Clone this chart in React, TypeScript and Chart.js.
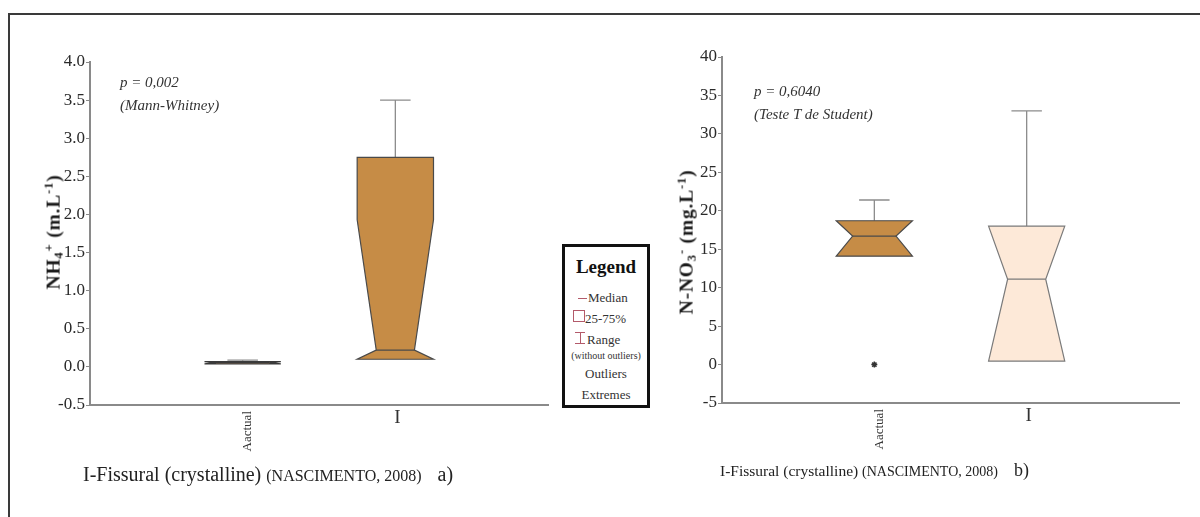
import React, { useEffect, useRef } from 'react';
import { Chart, registerables } from 'chart.js';

Chart.register(...registerables);

// ---------- data ----------
const categories = ['Aactual', 'I'];
const categoryRotated = [true, false];

// Panel a) NH4+
const nh4Min = [0.04, 0.1];
const nh4Q1 = [0.04, 0.1];
const nh4NotchLow = [0.04, 0.1];
const nh4Median = [0.055, 0.22];
const nh4NotchHigh = [0.07, 1.93];
const nh4Q3 = [0.07, 2.75];
const nh4Max = [0.09, 3.5];
const nh4Outliers: { cat: number; value: number }[] = [];
const nh4YTicks = [-0.5, 4.0, 0.5];

// Panel b) N-NO3-
const no3Min = [14.1, 0.45];
const no3Q1 = [14.1, 0.45];
const no3NotchLow = [14.1, 0.45];
const no3Median = [16.7, 11.1];
const no3NotchHigh = [18.7, 18.0];
const no3Q3 = [18.7, 18.0];
const no3Max = [21.4, 33.0];
const no3Outliers = [{ cat: 0, value: 0 }];
const no3YTicks = [-5, 40, 5];

const BROWN = '#C68C46';
const PEACH = '#FDE9D8';
const nh4Fill = [BROWN, BROWN];
const no3Fill = [BROWN, PEACH];
const nh4Stroke = ['#3a3a3a', '#4a4a4a'];
const no3Stroke = ['#4a4a4a', '#7a7a7a'];

const SERIF = '"Liberation Serif", "Times New Roman", serif';

type BoxSet = {
  min: number[]; q1: number[]; nlo: number[]; med: number[]; nhi: number[]; q3: number[]; max: number[];
  fill: string[]; stroke: string[]; notch: number[];
};

function makeBoxPlugin(b: BoxSet) {
  return {
    id: 'boxplots',
    beforeDatasetsDraw(chart: any) {
      const { ctx } = chart;
      const xs = chart.scales.x;
      const ys = chart.scales.y;
      const Y = (v: number) => ys.getPixelForValue(v);
      categories.forEach((_, i) => {
        const xc = xs.getPixelForValue(i);
        const hw = xs.getPixelForValue(i + 0.25) - xc;
        const nd = hw * b.notch[i];
        const L = xc - hw;
        const R = xc + hw;
        const cap = hw * 0.4;
        ctx.save();
        ctx.strokeStyle = '#8c8c8c';
        ctx.lineWidth = 1.3;
        ctx.beginPath();
        if (b.max[i] > b.q3[i]) {
          ctx.moveTo(xc, Y(b.q3[i]));
          ctx.lineTo(xc, Y(b.max[i]));
          ctx.moveTo(xc - cap, Y(b.max[i]));
          ctx.lineTo(xc + cap, Y(b.max[i]));
        }
        if (b.min[i] < b.q1[i]) {
          ctx.moveTo(xc, Y(b.q1[i]));
          ctx.lineTo(xc, Y(b.min[i]));
          ctx.moveTo(xc - cap, Y(b.min[i]));
          ctx.lineTo(xc + cap, Y(b.min[i]));
        }
        ctx.stroke();
        ctx.beginPath();
        ctx.moveTo(L, Y(b.q3[i]));
        ctx.lineTo(R, Y(b.q3[i]));
        ctx.lineTo(R, Y(b.nhi[i]));
        ctx.lineTo(R - nd, Y(b.med[i]));
        ctx.lineTo(R, Y(b.nlo[i]));
        ctx.lineTo(R, Y(b.q1[i]));
        ctx.lineTo(L, Y(b.q1[i]));
        ctx.lineTo(L, Y(b.nlo[i]));
        ctx.lineTo(L + nd, Y(b.med[i]));
        ctx.lineTo(L, Y(b.nhi[i]));
        ctx.closePath();
        ctx.fillStyle = b.fill[i];
        ctx.fill();
        ctx.strokeStyle = b.stroke[i];
        ctx.lineWidth = 1.2;
        ctx.stroke();
        ctx.beginPath();
        ctx.moveTo(L + nd, Y(b.med[i]));
        ctx.lineTo(R - nd, Y(b.med[i]));
        ctx.stroke();
        ctx.restore();
      });
    },
    afterDraw(chart: any) {
      const { ctx } = chart;
      const xs = chart.scales.x;
      const ys = chart.scales.y;
      categories.forEach((label, i) => {
        const xc = xs.getPixelForValue(i);
        ctx.save();
        ctx.fillStyle = '#333';
        if (categoryRotated[i]) {
          ctx.font = `13px ${SERIF}`;
          ctx.translate(xc + 5, ys.bottom + 6);
          ctx.rotate(-Math.PI / 2);
          ctx.textAlign = 'right';
          ctx.textBaseline = 'middle';
          ctx.fillText(label, 0, 0);
        } else {
          ctx.font = `19px ${SERIF}`;
          ctx.textAlign = 'center';
          ctx.textBaseline = 'top';
          ctx.fillText(label, xc + 2, ys.bottom + 4);
        }
        ctx.restore();
      });
    },
  };
}

function makeConfig(
  b: BoxSet,
  outliers: { cat: number; value: number }[],
  yTicks: number[],
  decimals: number,
  yWidth: number,
  xHeight: number,
  pad: { top: number; right: number }
): any {
  return {
    type: 'scatter',
    data: {
      datasets: [
        {
          label: 'Outliers',
          data: outliers.map((o) => ({ x: o.cat, y: o.value })),
          pointStyle: 'star',
          radius: 3,
          borderColor: '#333',
          backgroundColor: '#333',
          borderWidth: 1.5,
        },
      ],
    },
    plugins: [makeBoxPlugin(b)],
    options: {
      responsive: false,
      animation: false,
      devicePixelRatio: 1,
      layout: { padding: { left: 0, top: pad.top, right: pad.right, bottom: 0 } },
      plugins: { legend: { display: false }, tooltip: { enabled: false }, title: { display: false } },
      scales: {
        x: {
          type: 'linear',
          min: -1,
          max: 2,
          ticks: { display: false },
          grid: { display: true, drawOnChartArea: false, drawTicks: false, color: 'rgba(0,0,0,0)' },
          border: { display: true, color: '#8a8a8a', width: 2 },
          afterFit: (s: any) => { s.height = xHeight; },
        },
        y: {
          type: 'linear',
          min: yTicks[0],
          max: yTicks[1],
          ticks: {
            stepSize: yTicks[2],
            padding: 1,
            color: '#2a2a2a',
            font: { family: SERIF, size: 17 },
            callback: (v: number) => Number(v).toFixed(decimals),
          },
          grid: { display: true, drawOnChartArea: false, drawTicks: true, tickLength: 4, color: '#8a8a8a', lineWidth: 1 },
          border: { display: true, color: '#8a8a8a', width: 2 },
          afterFit: (s: any) => { s.width = yWidth; },
        },
      },
    },
  };
}

const nh4Boxes: BoxSet = {
  min: nh4Min, q1: nh4Q1, nlo: nh4NotchLow, med: nh4Median, nhi: nh4NotchHigh, q3: nh4Q3, max: nh4Max,
  fill: nh4Fill, stroke: nh4Stroke, notch: [0.3, 0.5],
};
const no3Boxes: BoxSet = {
  min: no3Min, q1: no3Q1, nlo: no3NotchLow, med: no3Median, nhi: no3NotchHigh, q3: no3Q3, max: no3Max,
  fill: no3Fill, stroke: no3Stroke, notch: [0.43, 0.5],
};

function BoxChart(props: { config: any; left: number; width: number }) {
  const ref = useRef<HTMLCanvasElement>(null);
  useEffect(() => {
    const chart = new Chart(ref.current as HTMLCanvasElement, props.config);
    return () => chart.destroy();
  }, []);
  return (
    <canvas
      ref={ref}
      width={props.width}
      height={517}
      style={{ position: 'absolute', left: props.left, top: 0, width: props.width, height: 517 }}
    />
  );
}

const abs = (o: React.CSSProperties): React.CSSProperties => ({ position: 'absolute', whiteSpace: 'nowrap', ...o });

function RotTitle(props: { x: number; y: number; size: number; children: React.ReactNode }) {
  return (
    <div style={abs({ left: props.x, top: props.y, width: 0, height: 0 })}>
      <div
        style={{
          position: 'absolute',
          left: 0,
          top: 0,
          transform: 'translate(-50%, -50%) rotate(-90deg)',
          fontFamily: SERIF,
          fontWeight: 'bold',
          fontSize: props.size,
          letterSpacing: 0.8,
          color: '#1a1a1a',
          whiteSpace: 'nowrap',
          lineHeight: 1,
        }}
      >
        {props.children}
      </div>
    </div>
  );
}

const subS: React.CSSProperties = { fontSize: '0.65em', verticalAlign: '-0.25em' };
const supS: React.CSSProperties = { fontSize: '0.65em', verticalAlign: '0.55em' };

export default function App() {
  const cfgA = makeConfig(nh4Boxes, nh4Outliers, nh4YTicks, 1, 90, 517 - 405, { top: 62, right: 12 });
  const cfgB = makeConfig(no3Boxes, no3Outliers, no3YTicks, 0, 62, 517 - 403, { top: 57, right: 21 });
  const ital: React.CSSProperties = { fontFamily: SERIF, fontStyle: 'italic', fontSize: 15, color: '#333', lineHeight: 1 };
  const capA: React.CSSProperties = { fontFamily: SERIF, fontSize: 20, color: '#222', lineHeight: 1 };
  const capB: React.CSSProperties = { fontFamily: SERIF, fontSize: 15.5, color: '#222', lineHeight: 1 };
  const leg: React.CSSProperties = { fontFamily: SERIF, fontSize: 13, color: '#333', lineHeight: 1 };
  return (
    <div style={{ position: 'fixed', left: 0, top: 0, width: 1200, height: 517, background: '#fff', overflow: 'hidden' }}>
      {/* frame */}
      <div style={abs({ left: 8, top: 13, width: 1200, height: 2, background: '#3a3a3a' })} />
      <div style={abs({ left: 8, top: 13, width: 2, height: 520, background: '#3a3a3a' })} />

      <BoxChart config={cfgA} left={0} width={560} />
      <BoxChart config={cfgB} left={660} width={540} />

      {/* axis titles */}
      <RotTitle x={54} y={232} size={19.5}>
        NH<span style={subS}>4</span><span style={supS}>+</span> (m.L<span style={supS}>-1</span>)
      </RotTitle>
      <RotTitle x={687} y={242} size={19.5}>
        N-NO<span style={subS}>3</span><span style={supS}>-</span> (mg.L<span style={supS}>-1</span>)
      </RotTitle>

      {/* test annotations */}
      <div style={abs({ ...ital, left: 120, top: 75 })}>p = 0,002</div>
      <div style={abs({ ...ital, left: 120, top: 98 })}>(Mann-Whitney)</div>
      <div style={abs({ ...ital, left: 754, top: 84 })}>p = 0,6040</div>
      <div style={abs({ ...ital, left: 754, top: 107 })}>(Teste T de Student)</div>

      {/* captions */}
      <div style={abs({ ...capA, left: 83, top: 464 })}>
        I-Fissural (crystalline) <span style={{ fontSize: 16 }}>(NASCIMENTO, 2008)</span>
        <span style={{ marginLeft: 16 }}>a)</span>
      </div>
      <div style={abs({ ...capB, left: 720, top: 461 })}>
        I-Fissural (crystalline) <span style={{ fontSize: 14 }}>(NASCIMENTO, 2008)</span>
        <span style={{ marginLeft: 16, fontSize: 18 }}>b)</span>
      </div>

      {/* legend */}
      <div style={abs({ left: 562, top: 244, width: 82, height: 158, border: '3px solid #111', background: '#fff' })}>
        <div style={abs({ left: 0, width: 82, top: 10, textAlign: 'center', fontFamily: SERIF, fontWeight: 'bold', fontSize: 19, color: '#111', lineHeight: 1 })}>
          Legend
        </div>
        <div style={abs({ left: 13, top: 51, width: 9, height: 1, background: '#b35a6a' })} />
        <div style={abs({ ...leg, left: 23, top: 44 })}>Median</div>
        <div style={abs({ left: 8, top: 63, width: 10, height: 10, border: '1px solid #b35a6a' })} />
        <div style={abs({ ...leg, left: 20, top: 65 })}>25-75%</div>
        <div style={abs({ left: 10, top: 85, width: 10, height: 1, background: '#b35a6a' })} />
        <div style={abs({ left: 14.5, top: 85, width: 1, height: 11, background: '#b35a6a' })} />
        <div style={abs({ left: 10, top: 96, width: 10, height: 1, background: '#b35a6a' })} />
        <div style={abs({ ...leg, left: 22, top: 86 })}>Range</div>
        <div style={abs({ ...leg, left: 0, width: 82, top: 104, fontSize: 10, textAlign: 'center' })}>(without outliers)</div>
        <div style={abs({ ...leg, left: 0, width: 82, top: 120, textAlign: 'center' })}>Outliers</div>
        <div style={abs({ ...leg, left: 0, width: 82, top: 141, textAlign: 'center' })}>Extremes</div>
      </div>
    </div>
  );
}
